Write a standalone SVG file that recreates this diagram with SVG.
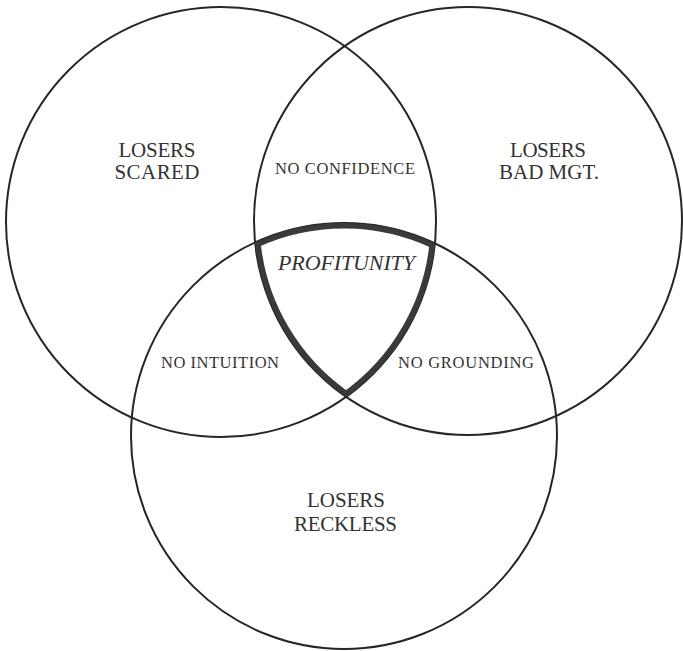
<svg xmlns="http://www.w3.org/2000/svg" width="683" height="651" viewBox="0 0 683 651">
  <style>
    .circle { fill: none; stroke: #262626; stroke-width: 2; }
    .big { font-family: "Liberation Serif", "Times New Roman", serif; font-size: 21px; fill: #333; text-anchor: middle; }
    .small { font-family: "Liberation Serif", "Times New Roman", serif; font-size: 16.5px; fill: #333; text-anchor: middle; }
    .ital { font-family: "Liberation Serif", "Times New Roman", serif; font-size: 22px; font-style: italic; fill: #333; text-anchor: middle; }
    .core { fill: none; stroke: #3a3a3a; stroke-width: 11; stroke-linejoin: miter; }
  </style>
  <defs>
    <clipPath id="coreClip">
      <path d="M 255.1 242.4 A 213 213 0 0 1 435.0 243.5 A 215 215 0 0 1 346.1 396.9 A 214 214 0 0 1 255.1 242.4 Z"/>
    </clipPath>
  </defs>
  <rect width="683" height="651" fill="#ffffff"/>
  <g id="scared">
    <circle class="circle" cx="221" cy="222" r="215"/>
    <text class="big" x="157" y="157" textLength="77">LOSERS</text>
    <text class="big" x="157" y="179" textLength="85">SCARED</text>
  </g>
  <g id="badmgt">
    <circle class="circle" cx="468" cy="221" r="214"/>
    <text class="big" x="548" y="157" textLength="76">LOSERS</text>
    <text class="big" x="549" y="179" textLength="100">BAD MGT.</text>
  </g>
  <g id="reckless">
    <circle class="circle" cx="344" cy="436" r="213"/>
    <text class="big" x="346" y="507" textLength="78">LOSERS</text>
    <text class="big" x="345.5" y="531" textLength="103">RECKLESS</text>
  </g>
  <g id="no-confidence">
    <text class="small" x="345" y="174" textLength="140">NO CONFIDENCE</text>
  </g>
  <g id="no-intuition">
    <text class="small" x="220" y="368" textLength="118">NO INTUITION</text>
  </g>
  <g id="no-grounding">
    <text class="small" x="466" y="368" textLength="136">NO GROUNDING</text>
  </g>
  <g id="profitunity">
    <path class="core" clip-path="url(#coreClip)" d="M 255.1 242.4 A 213 213 0 0 1 435.0 243.5 A 215 215 0 0 1 346.1 396.9 A 214 214 0 0 1 255.1 242.4 Z"/>
    <text class="ital" x="346.5" y="270" textLength="137">PROFITUNITY</text>
  </g>
  <g id="connectors"/>
</svg>
